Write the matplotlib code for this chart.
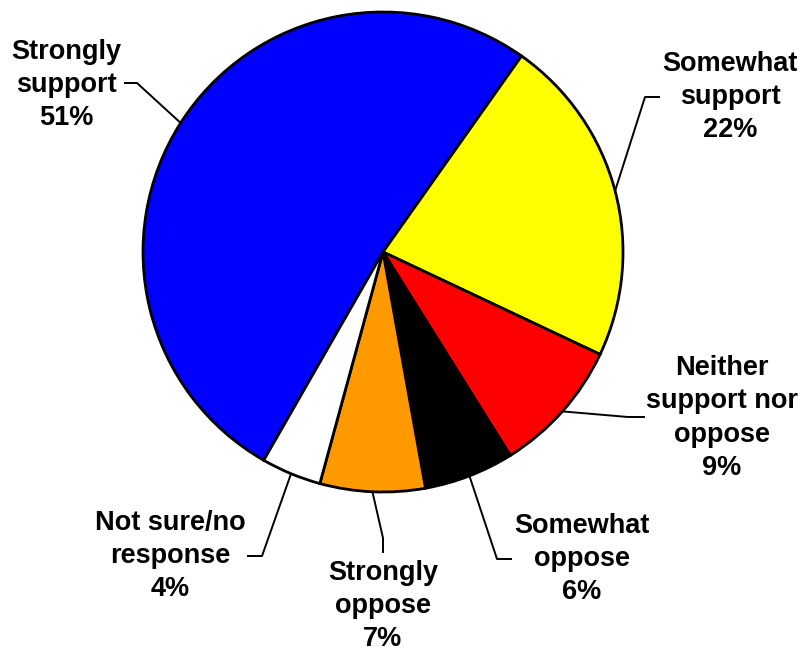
import numpy as np
import matplotlib
matplotlib.use('Agg')
import matplotlib.pyplot as plt

# survey answers
categories = ['Strongly\nsupport', 'Somewhat\nsupport', 'Neither\nsupport nor\noppose',
              'Somewhat\noppose', 'Strongly\noppose', 'Not sure/no\nresponse']
percents = [51, 22, 9, 6, 7, 4]
colors = ['#0000FF', '#FFFF00', '#FF0000', '#000000', '#FF9900', '#FFFFFF']

# label placement in pixels (x, y from top): text centre, elbow, line end
text_pos = [(66, 85), (730, 97), (722, 418), (582, 559), (383, 606), (170, 556)]
elbow_pos = [(137, 83), (645, 97), (628, 417), (497, 559), (383, 538), (262, 556)]
end_pos = [(124, 83), (660, 97), (645, 417), (512, 559), (383, 553), (247, 556)]

W, H = 800, 654
center = (383, H - 252)
radius = 240

fig = plt.figure(figsize=(8, 6.54), dpi=100)
ax = fig.add_axes([0, 0, 1, 1])

wedges, _ = ax.pie(percents, colors=colors, center=center, radius=radius,
                   startangle=-119.8, counterclock=False,
                   wedgeprops=dict(edgecolor='black', linewidth=2.0))
ax.set_xlim(0, W)
ax.set_ylim(0, H)
ax.set_aspect('equal')
ax.axis('off')

for i, w in enumerate(wedges):
    mid = np.deg2rad((w.theta1 + w.theta2) / 2)
    ex = center[0] + radius * np.cos(mid)
    ey = center[1] + radius * np.sin(mid)
    xs = [ex, elbow_pos[i][0], end_pos[i][0]]
    ys = [ey, H - elbow_pos[i][1], H - end_pos[i][1]]
    ax.plot(xs, ys, color='black', linewidth=1.4, solid_capstyle='butt', zorder=1)
    ax.text(text_pos[i][0], H - text_pos[i][1], f'{categories[i]}\n{percents[i]}%',
            ha='center', va='center', fontsize=19.5, fontweight='bold',
            family='Liberation Sans', linespacing=1.37)

fig.savefig('out.png', dpi=100)
